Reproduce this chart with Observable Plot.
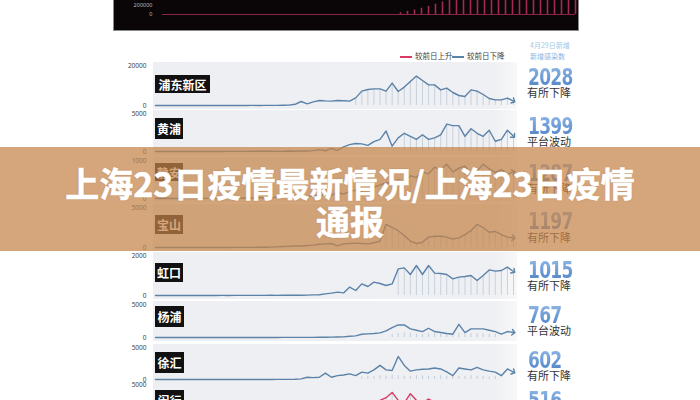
<!DOCTYPE html>
<html><head><meta charset="utf-8">
<script src="https://cdn.jsdelivr.net/npm/d3@7"></script>
<script src="https://cdn.jsdelivr.net/npm/@observablehq/plot@0.6"></script>
<style>
body{margin:0;background:#fff;font-family:"Noto Sans CJK SC","Noto Sans",sans-serif;}
#root{position:relative;width:700px;height:400px;overflow:hidden;background:#fff;}
#root > div{position:absolute;}
.band{left:153px;width:364px;background:linear-gradient(to right,#eeeff2 0%,#eff0f3 94%,#f8f8f9 100%);}
.lbl{left:155px;background:#111;color:#fff;font-weight:700;font-size:12px;text-align:center;display:flex;align-items:center;justify-content:center;}
.num{left:528px;font-family:"DejaVu Sans Condensed","DejaVu Sans",sans-serif;font-weight:700;font-size:20px;letter-spacing:-0.8px;color:#6a9ad6;line-height:1;transform:scale(0.95,1.12);transform-origin:left top;background:linear-gradient(#8fb6e6,#4f83c6);-webkit-background-clip:text;background-clip:text;-webkit-text-fill-color:transparent;}
.st{left:527px;font-size:11px;color:#333;line-height:1;}
.leg{top:51px;font-size:7.5px;color:#444;line-height:10px;}
.sw{display:inline-block;width:12px;height:2.5px;vertical-align:middle;margin-right:3px;}
#root > #banner{left:0;top:147px;width:700px;height:104px;background:rgba(197,131,72,0.72);color:#fff;font-weight:700;font-size:34px;line-height:38px;text-align:center;padding-top:17px;box-sizing:border-box;-webkit-text-stroke:0.5px #fff;text-shadow:0 0 2px rgba(90,50,20,0.25);z-index:10;}
</style></head><body><div id="root"></div>
<script>
// ---- data ----
const districts = ["浦东新区","黄浦","静安","宝山","虹口","杨浦","徐汇","闵行"];
const latest = ["2028","1399","1287","1197","1015","767","602","516"];
const trend = ["有所下降","平台波动","有所下降","有所下降","有所下降","平台波动","有所下降","有所上升"];
const axisMax = [20000,5000,1000,5000,2000,5000,5000,5000];
const direction = ["down","down","down","down","down","down","down","up"];

const pudong = [2,0,1,3,2,5,4,8,6,12,10,15,20,18,30,25,40,35,60,50,80,120,200,
  600,2000,850,1800,2500,2300,2200,2500,2400,2200,3800,7200,8000,8300,8300,7200,11200,7000,9200,12000,14700,12500,10300,10300,7800,8700,6500,5000,4500,7800,7200,5500,3500,2800,2800,3700,2200];
const huangpu = [0,0,1,0,2,1,3,2,5,4,6,8,10,12,15,20,25,30,40,45,
  20,30,60,40,80,60,120,250,100,400,150,600,900,1050,1000,800,1300,1600,2700,700,1800,2400,2000,1600,2200,1600,1800,2200,3600,3400,3400,2000,3000,2400,2000,2800,1350,1600,2800,2000];
const jingan = [0,0,0,1,0,2,1,3,2,4,3,5,6,8,10,12,15,18,20,25,30,40,35,50,60,45,80,70,100,90,
  150,120,180,220,200,260,300,350,420,380,500,450,600,550,700,650,820,760,900,700,800,850,650,720,900,780,680,760,640,700];
const baoshan = [0,0,1,0,1,2,1,3,2,4,5,6,8,10,12,15,20,25,30,50,
  80,120,150,200,180,250,300,400,450,500,200,450,500,550,500,450,600,800,2900,2500,2100,1500,800,500,650,1300,1400,1400,1300,1050,1200,1600,2100,2900,2500,1900,2000,1600,1300,1197];
const hongkou = [0,0,0,1,0,1,2,1,2,3,2,4,3,5,4,6,5,8,6,10,8,12,10,15,12,20,30,
  40,80,120,170,130,420,250,580,450,670,600,500,580,1330,1380,1050,1500,1050,1500,1120,1100,1050,830,920,950,1000,750,1000,1280,1220,1250,1420,1200];
const yangpu = [0,0,0,0,1,0,1,0,2,1,2,3,2,4,3,5,6,5,8,10,8,12,15,12,18,20,25,30,
  30,60,80,100,200,250,500,550,600,700,1000,1500,1900,1900,1300,1100,900,1400,900,750,600,500,2000,750,1300,1300,1300,1100,900,500,900,767];
const xuhui = [0,0,0,0,0,1,0,1,0,2,1,2,3,2,4,5,4,6,8,10,12,15,20,40,
  100,350,300,350,1000,350,600,700,880,600,1150,1000,1500,2200,1500,1400,3600,2200,1300,1500,1600,1650,1800,1650,1200,600,1800,1650,1500,1900,1500,1300,1150,600,1650,1150];
const minhang = [0,0,1,0,2,1,3,2,4,3,5,6,8,10,12,15,20,25,30,40,50,80,100,150,200,250,
  300,400,500,700,900,1100,1300,1500,1800,2000,2200,2600,3000,3800,2600,2200,3600,2600,2200,2800,2300,1800,1700,1500,1400,1300,1200,1100,1000,900,800,700,600,516];
const series = [pudong,huangpu,jingan,baoshan,hongkou,yangpu,xuhui,minhang];

// day index where thin daily rules begin (rules reach the line)
const ruleStart = [33,41,38,38,40,null,null,38];
// short daily bars for 杨浦 / 徐汇
const yangpuBarStart = 39;
const yangpuBars = [500,600,700,650,500,450,550,600,500,450,400,600,500,550,600,550,500,450];
const xuhuiBarStart = 34;
const xuhuiBars = [400,500,450,600,550,700,600,500,450,600,550,500,450,600,500,550,450,500,600,500,450,400,500];

// top (cut off) cumulative chart
const topTicks = [0, 200000];
const topTotals = [0,0,0,0,0,0,0,0,0,0,0,0,0,0,0,0,0,0,0,0,0,0,0,0,0,0,0,0,0,0,0,0,0,0,
  40000,70000,100000,140000,180000,230000,280000,330000,360000,390000,410000,430000,450000,465000,480000,490000,500000,505000,510000,515000,520000,525000,530000,535000,540000,545000];

const legendLabels = ["较前日上升","较前日下降"];
const headNote = ["4月29日新增","新增感染数"];
const title = ["上海23日疫情最新情况/上海23日疫情","通报"];

// ---- layout geometry (pixels) ----
const geo = [
  {top:65, zero:105, box:[75,55,18], num:66, st:87},
  {top:113,zero:151, box:[118,28,21],num:115,st:136},
  {top:160,zero:198, box:[163,28,18],num:162,st:183},
  {top:207,zero:247, box:[215,28,19],num:210,st:232},
  {top:255,zero:295, box:[263,28,19],num:259,st:280},
  {top:304,zero:337, box:[306,29,21],num:304,st:325},
  {top:347,zero:379, box:[352,29,21],num:349,st:370},
  {top:384,zero:417, box:[390,29,21],num:389,st:410}
];
const colors = {up:"#d93a62", down:"#5b82a8"};

const root = document.getElementById("root");
function div(cls, css, html){const e=document.createElement("div");if(cls)e.className=cls;Object.assign(e.style,css);if(html!=null)e.innerHTML=html;root.appendChild(e);return e;}

// top dark chart
{
  const data = topTotals.map((v,d)=>({d,v})).filter(o=>o.v>0);
  const p = Plot.plot({
    width:464, height:30, marginLeft:48, marginRight:3, marginTop:5, marginBottom:16,
    x:{domain:[0,59], axis:null}, y:{domain:[0,200000], axis:null},
    style:{background:"#0a0507", overflow:"hidden"},
    marks:[
      Plot.ruleY([0],{stroke:"#8e2444", strokeWidth:1}),
      Plot.ruleX(data,{x:"d", y1:0, y2:"v", stroke:"#c03060", strokeWidth:1.6, strokeOpacity:0.85}),
      Plot.text(topTicks,{x:0, y:d=>d, text:d=>String(d), dx:-10, textAnchor:"end", fill:"#bbb", fontSize:5.5})
    ]
  });
  Object.assign(p.style,{position:"absolute",left:"114px",top:"0px"});
  root.appendChild(p);
  div(null,{left:"113px",top:"0px",width:"464px",height:"30px",border:"1px solid #8a8a8a",borderTop:"none",zIndex:2});
}

// legend
div("leg",{left:"400px"},`<span class="sw" style="background:${colors.up}"></span>${legendLabels[0]}`);
div("leg",{left:"452px"},`<span class="sw" style="background:${colors.down}"></span>${legendLabels[1]}`);
div(null,{left:"530px",top:"40px",fontSize:"7px",color:"#a9c6e6",lineHeight:"10px"},headNote[0]);
div(null,{left:"530px",top:"51px",fontSize:"7px",color:"#8fb5e0",lineHeight:"10px"},headNote[1]);

// panels
series.forEach((vals,i)=>{
  const g = geo[i];
  div("band",{top:(g.top-3)+"px",height:(g.zero-g.top+7)+"px"});
  const data = vals.map((v,d)=>({d,v}));
  const svgTop = g.top-6;
  const h = g.zero - svgTop + 5;
  const marks = [];
  if (ruleStart[i]!=null) marks.push(Plot.ruleX(data.filter(o=>o.d>=ruleStart[i]),{x:"d",y1:0,y2:"v",stroke:"#c7d1dc",strokeWidth:1}));
  if (i===5) marks.push(Plot.ruleX(yangpuBars.map((v,k)=>({d:yangpuBarStart+k,v})),{x:"d",y1:0,y2:"v",stroke:"#c2ccd8",strokeWidth:1}));
  if (i===6) marks.push(Plot.ruleX(xuhuiBars.map((v,k)=>({d:xuhuiBarStart+k,v})),{x:"d",y1:0,y2:"v",stroke:"#c2ccd8",strokeWidth:1}));
  marks.push(Plot.line(data,{x:"d",y:"v",stroke:colors[direction[i]],strokeWidth:1.4,markerEnd:"arrow"}));
  marks.push(Plot.text([0,axisMax[i]],{x:0,y:d=>d,text:d=>String(d),dx:-9,textAnchor:"end",fill:"#444",fontSize:6.5}));
  const p = Plot.plot({
    width:400, height:h, marginLeft:35, marginRight:7, marginTop:6, marginBottom:5,
    x:{domain:[0,59], axis:null}, y:{domain:[0,axisMax[i]], axis:null},
    style:{background:"transparent", overflow:"visible"},
    marks
  });
  Object.assign(p.style,{position:"absolute",left:"120px",top:svgTop+"px"});
  root.appendChild(p);
  div("lbl",{top:g.box[0]+"px",width:g.box[1]+"px",height:g.box[2]+"px"},districts[i]);
  div("num",{top:g.num+"px"},latest[i]);
  div("st",{top:g.st+"px"},trend[i]);
});

const b = document.createElement("div"); b.id="banner"; b.innerHTML = title[0]+"<br>"+title[1]; root.appendChild(b);
</script></body></html>
